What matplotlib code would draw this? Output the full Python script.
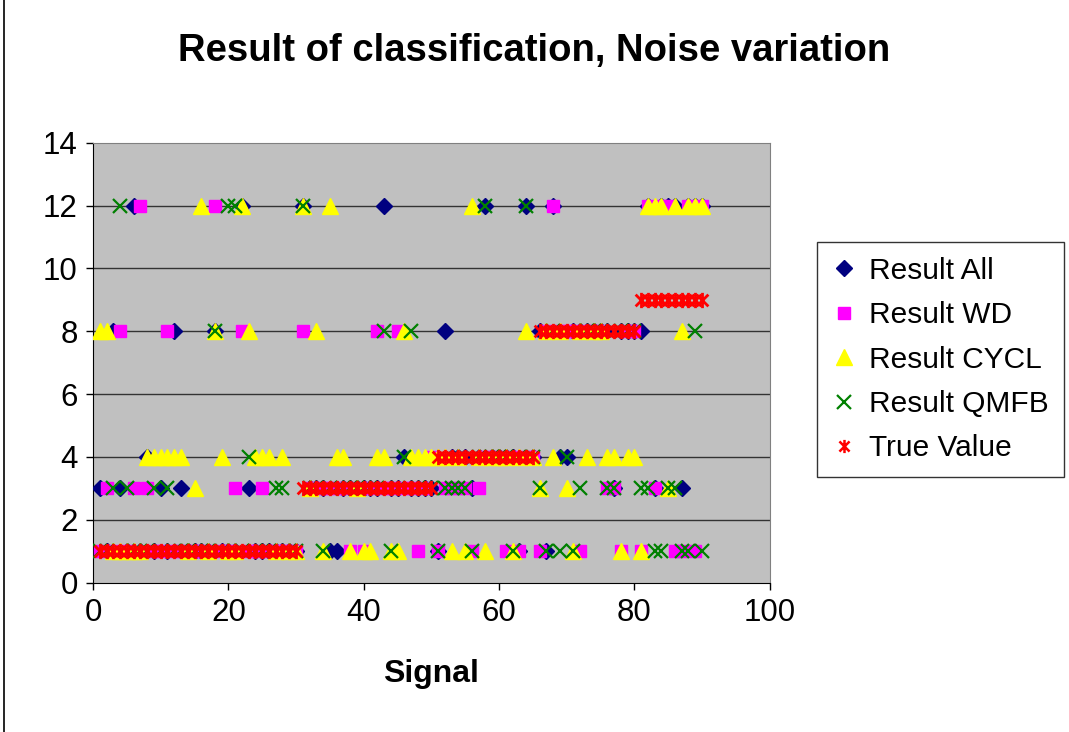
import numpy as np
import matplotlib.pyplot as plt
from matplotlib.path import Path
from matplotlib.lines import Line2D
from matplotlib.patches import Rectangle

plt.rcParams['font.family'] = ['Liberation Sans', 'DejaVu Sans']

# signal number 1..90
signal = list(range(1, 91))

result_all = [3, 1, 8, 3, 1, 12, 1, 4, 1, 3,
              1, 8, 3, 1, 1, 1, 1, 8, 1, 1,
              1, 12, 3, 1, 1, 1, 1, 1, 1, 1,
              12, 3, 3, 3, 1, 1, 3, 3, 3, 3,
              3, 3, 12, 3, 3, 4, 3, 3, 3, 3,
              1, 8, 4, 4, 4, 3, 4, 12, 4, 4,
              4, 4, 1, 12, 4, 8, 1, 12, 4, 4,
              8, 8, 8, 8, 8, 8, 3, 8, 8, 8,
              8, 12, 3, 12, 12, 12, 3, 12, 12, 12]

result_wd = [1, 3, 1, 8, 1, 3, 12, 3, 1, 1,
             8, 1, 1, 1, 1, 1, 1, 12, 1, 1,
             3, 8, 1, 1, 3, 1, 1, 1, 1, 1,
             8, 3, 3, 3, 3, 3, 3, 1, 3, 1,
             3, 8, 3, 3, 8, 3, 3, 1, 3, 4,
             1, 3, 3, 3, 3, 1, 3, 4, 4, 4,
             1, 4, 1, 4, 4, 1, 8, 12, 8, 8,
             8, 1, 8, 8, 8, 3, 3, 1, 8, 8,
             1, 12, 3, 12, 12, 1, 1, 12, 1, 12]

result_cycl = [8, 8, 1, 1, 1, 1, 1, 4, 4, 4,
               4, 4, 4, 1, 3, 12, 1, 8, 4, 1,
               1, 12, 8, 4, 4, 4, 1, 4, 1, 1,
               12, 3, 8, 1, 12, 4, 4, 1, 3, 1,
               1, 4, 4, 1, 1, 8, 4, 4, 4, 4,
               4, 4, 1, 4, 1, 12, 4, 1, 4, 4,
               4, 1, 4, 8, 4, 3, 8, 4, 8, 3,
               1, 8, 4, 8, 8, 4, 4, 1, 4, 4,
               1, 12, 12, 12, 3, 12, 8, 12, 12, 12]

result_qmfb = [1, 1, 3, 12, 3, 1, 1, 1, 3, 1,
               3, 1, 1, 1, 1, 1, 1, 8, 1, 12,
               12, 1, 4, 1, 1, 1, 3, 3, 1, 1,
               12, 3, 3, 1, 3, 3, 3, 3, 3, 3,
               3, 3, 8, 1, 3, 4, 8, 3, 3, 3,
               1, 3, 3, 3, 3, 1, 4, 12, 4, 4,
               4, 1, 4, 12, 4, 3, 1, 8, 1, 4,
               1, 3, 8, 8, 8, 3, 3, 8, 8, 8,
               3, 3, 1, 1, 3, 3, 1, 1, 8, 1]

true_value = [1, 1, 1, 1, 1, 1, 1, 1, 1, 1,
              1, 1, 1, 1, 1, 1, 1, 1, 1, 1,
              1, 1, 1, 1, 1, 1, 1, 1, 1, 1,
              3, 3, 3, 3, 3, 3, 3, 3, 3, 3,
              3, 3, 3, 3, 3, 3, 3, 3, 3, 3,
              4, 4, 4, 4, 4, 4, 4, 4, 4, 4,
              4, 4, 4, 4, 4, 8, 8, 8, 8, 8,
              8, 8, 8, 8, 8, 8, 8, 8, 8, 8,
              9, 9, 9, 9, 9, 9, 9, 9, 9, 9]

# Excel style "star" marker: x with a vertical bar
star = Path([(-1, -1), (1, 1), (-1, 1), (1, -1), (0, -1.3), (0, 1.3)],
            [Path.MOVETO, Path.LINETO, Path.MOVETO, Path.LINETO, Path.MOVETO, Path.LINETO])

fig = plt.figure(figsize=(10.69, 7.32), dpi=100)
fig.patches.append(Rectangle((0.004, -0.01), 1.2, 1.2, transform=fig.transFigure,
                             fill=False, edgecolor="black", lw=1.2))
ax = fig.add_axes([0.087, 0.204, 0.633, 0.601])
ax.set_facecolor("#C0C0C0")

for yv in [2, 4, 6, 8, 10, 12]:
    ax.axhline(yv, color="#333333", lw=1.0, zorder=1)

ax.plot(signal, result_all, ls="none", marker="D", ms=8, color="#000080", label="Result All", zorder=3)
ax.plot(signal, result_wd, ls="none", marker="s", ms=8, color="#FF00FF", label="Result WD", zorder=3)
ax.plot(signal, result_cycl, ls="none", marker="^", ms=11, color="#FFFF00", label="Result CYCL", zorder=3)
ax.plot(signal, result_qmfb, ls="none", marker="x", ms=10, mew=1.6, color="#008000", label="Result QMFB", zorder=3)
ax.plot(signal, true_value, ls="none", marker=star, ms=11, mew=2.0, color="#FF0000",
        mfc="none", label="True Value", zorder=3)

ax.set_xlim(0, 100)
ax.set_ylim(0, 14)
ax.set_xticks(range(0, 101, 20))
ax.set_yticks(range(0, 15, 2))
ax.tick_params(labelsize=22.5, direction="out", length=5, width=1, pad=6)
for s in ["top", "right"]:
    ax.spines[s].set_color("#808080")
for s in ["left", "bottom"]:
    ax.spines[s].set_color("black")

ax.set_xlabel("Signal", fontsize=23, fontweight="bold", labelpad=22)
fig.suptitle("Result of classification, Noise variation", fontsize=27.5, fontweight="bold",
             x=0.50, y=0.955)

handles = [
    Line2D([], [], ls="none", marker="D", ms=8, color="#000080"),
    Line2D([], [], ls="none", marker="s", ms=8, color="#FF00FF"),
    Line2D([], [], ls="none", marker="^", ms=11, color="#FFFF00"),
    Line2D([], [], ls="none", marker="x", ms=10, mew=1.6, color="#008000"),
    Line2D([], [], ls="none", marker=star, ms=9.5, mew=1.8, color="#FF0000", mfc="none"),
]
labels = ["Result All", "Result WD", "Result CYCL", "Result QMFB", "True Value"]
leg = fig.legend(handles, labels, loc="upper left", bbox_to_anchor=(0.7505, 0.69),
                 fontsize=21.5, frameon=True, fancybox=False, edgecolor="black",
                 handlelength=0.8, handletextpad=0.45, labelspacing=0.55, borderpad=0.5)
leg.get_frame().set_linewidth(1.0)

fig.savefig("out.png", dpi=100)
